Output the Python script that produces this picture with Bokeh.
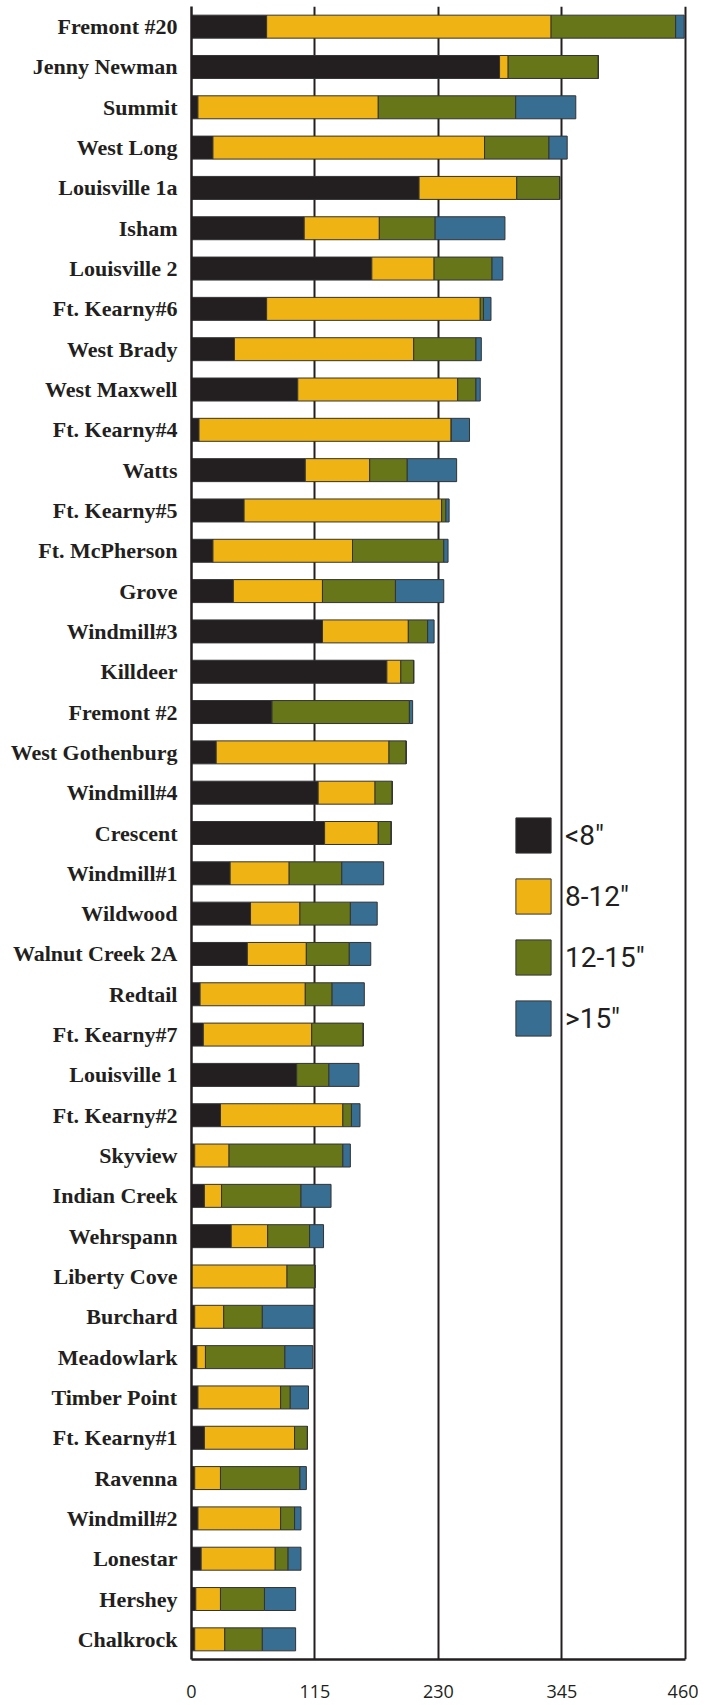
from bokeh.plotting import figure
from bokeh.models import FactorRange, Range1d, FixedTicker, Legend, LegendItem, ColumnDataSource
from bokeh.embed import file_html
from bokeh.resources import INLINE

sites = ["Fremont #20", "Jenny Newman", "Summit", "West Long", "Louisville 1a", "Isham",
         "Louisville 2", "Ft. Kearny#6", "West Brady", "West Maxwell", "Ft. Kearny#4", "Watts",
         "Ft. Kearny#5", "Ft. McPherson", "Grove", "Windmill#3", "Killdeer", "Fremont #2",
         "West Gothenburg", "Windmill#4", "Crescent", "Windmill#1", "Wildwood", "Walnut Creek 2A",
         "Redtail", "Ft. Kearny#7", "Louisville 1", "Ft. Kearny#2", "Skyview", "Indian Creek",
         "Wehrspann", "Liberty Cove", "Burchard", "Meadowlark", "Timber Point", "Ft. Kearny#1",
         "Ravenna", "Windmill#2", "Lonestar", "Hershey", "Chalkrock"]

lt8 =    [70, 287, 6, 20, 212, 105, 168, 70, 40, 99, 7, 106, 49, 20, 39, 122, 182, 75, 23, 118, 124,
          36, 55, 52, 8, 11, 98, 27, 3, 12, 37, 0, 3, 5, 6, 12, 3, 6, 9, 4, 3]
d8_12 =  [265, 8, 168, 253, 91, 70, 58, 199, 167, 149, 235, 60, 184, 130, 83, 80, 13, 0, 161, 53, 50,
          55, 46, 55, 98, 101, 0, 114, 32, 16, 34, 89, 27, 8, 77, 84, 24, 77, 69, 23, 28]
d12_15 = [116, 84, 128, 60, 40, 52, 54, 3, 58, 17, 0, 35, 4, 85, 68, 18, 12, 128, 16, 16, 12,
          49, 47, 40, 25, 48, 30, 8, 106, 74, 39, 26, 36, 74, 9, 12, 74, 13, 12, 41, 35]
gt15 =   [8, 0, 56, 17, 0, 65, 10, 7, 5, 4, 17, 46, 3, 4, 45, 6, 0, 3, 0, 0, 0,
          39, 25, 20, 30, 0, 28, 8, 7, 28, 13, 0, 48, 26, 17, 0, 6, 6, 12, 29, 31]

series = ["lt8", "d8_12", "d12_15", "gt15"]
labels = ["<8\u2033", "8-12\u2033", "12-15\u2033", ">15\u2033"]
colors = ["#231f20", "#efb314", "#677619", "#376e91"]
ticks = [0, 115, 230, 345, 460]

source = ColumnDataSource(dict(site=sites, lt8=lt8, d8_12=d8_12, d12_15=d12_15, gt15=gt15))

p = figure(width=698, height=1705, output_backend="svg", toolbar_location=None,
           y_range=FactorRange(factors=list(reversed(sites)), range_padding=0),
           x_range=Range1d(0, 463),
           min_border_left=191, min_border_right=10, min_border_top=6, min_border_bottom=46)
p.outline_line_color = None
p.background_fill_color = "white"

renderers = p.hbar_stack(series, y="site", height=0.57, source=source,
                         fill_color=colors, line_color="#333333", line_width=1)

# grid
p.ygrid.grid_line_color = None
p.xgrid.ticker = FixedTicker(ticks=ticks)
p.xgrid.grid_line_color = "#231f20"
p.xgrid.grid_line_width = 2

# x axis
p.xaxis.ticker = FixedTicker(ticks=ticks)
p.xaxis.bounds = (0, 460)
p.xaxis.axis_line_color = "#231f20"
p.xaxis.axis_line_width = 2.5
p.xaxis.major_tick_line_color = None
p.xaxis.minor_tick_line_color = None
p.xaxis.major_label_standoff = 19
p.xaxis.major_label_text_font = "Open Sans"
p.xaxis.major_label_text_font_size = "18px"
p.xaxis.major_label_text_color = "#231f20"

# y axis
p.yaxis.axis_line_color = "#231f20"
p.yaxis.axis_line_width = 2.5
p.yaxis.major_tick_line_color = None
p.yaxis.minor_tick_line_color = None
p.yaxis.major_label_standoff = 8
p.yaxis.major_label_text_font = "Liberation Serif"
p.yaxis.major_label_text_font_style = "bold"
p.yaxis.major_label_text_font_size = "22px"
p.yaxis.major_label_text_color = "#231f20"

items = [LegendItem(label=lab, renderers=[r]) for lab, r in zip(labels, renderers)]
legend = Legend(items=items, location=(320, 619), glyph_width=44, glyph_height=44,
                spacing=17, padding=0, margin=0, label_standoff=10,
                border_line_color=None, background_fill_alpha=0,
                label_text_font="Roboto", label_text_font_size="28px",
                label_text_color="#231f20")
p.add_layout(legend, "center")

open("out.html", "w").write(file_html(p, INLINE))
